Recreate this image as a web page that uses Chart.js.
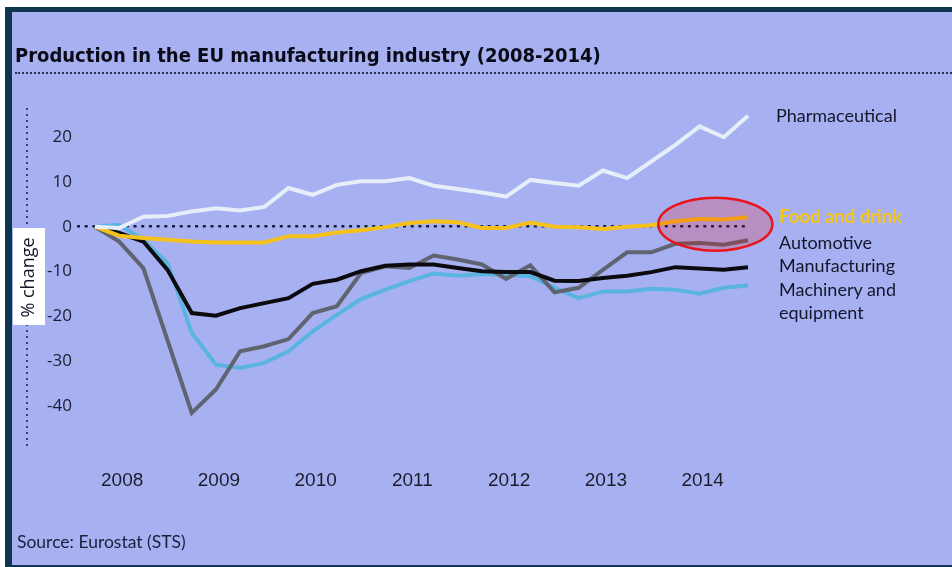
<!DOCTYPE html>
<html>
<head>
<meta charset="utf-8">
<title>Production in the EU manufacturing industry (2008-2014)</title>
<script src="https://cdn.jsdelivr.net/npm/chart.js@4.4.1/dist/chart.umd.min.js"></script>
<style>
  html, body { margin: 0; padding: 0; background: #fff; }
  body { width: 952px; height: 567px; position: relative; overflow: hidden; font-family: Lato, "Open Sans", sans-serif; }
  #frame { position: absolute; left: 5px; top: 7px; width: 940px; height: 553px; background: #a7b1f1;
           border-left: 7px solid #0d3550; border-top: 5px solid #0d3550; border-bottom: 2px solid #0d3550; }
  #title { position: absolute; left: 15px; top: 43px; font: bold 20px "DejaVu Sans Condensed", sans-serif;
           line-height: 24px; color: #0a0a16; white-space: nowrap; z-index: 2; }
  #rule { position: absolute; left: 15px; top: 72px; width: 937px; border-top: 2px dotted #2a2f55; z-index: 2; }
  #wrap { position: absolute; left: 0; top: 0; width: 952px; height: 567px; z-index: 1; }
  .lbl { position: absolute; left: 779px; font-size: 18px; line-height: 23px; color: #14162a; white-space: nowrap; z-index: 2; }
  #source { position: absolute; left: 17px; top: 531px; font-size: 17.5px; line-height: 22px; color: #1a1f3a; z-index: 2; }
</style>
</head>
<body>
<div id="frame"></div>
<div id="title">Production in the EU manufacturing industry (2008-2014)</div>
<div id="rule"></div>
<div id="wrap"><canvas id="chart" width="952" height="567"></canvas></div>
<div class="lbl" style="left:776px; top:104px;">Pharmaceutical</div>
<div class="lbl" style="top:205px; color:#f5c518; font-weight:bold; font-size:18.5px;">Food and drink</div>
<div class="lbl" style="top:231px;">Automotive</div>
<div class="lbl" style="top:254px;">Manufacturing</div>
<div class="lbl" style="top:278px;">Machinery and</div>
<div class="lbl" style="top:301px;">equipment</div>
<div id="source">Source: Eurostat (STS)</div>

<script>
// quarterly index, % change vs 2008 Q1
const quarters = [
  '2008 Q1', '2008 Q2', '2008 Q3', '2008 Q4',
  '2009 Q1', '2009 Q2', '2009 Q3', '2009 Q4',
  '2010 Q1', '2010 Q2', '2010 Q3', '2010 Q4',
  '2011 Q1', '2011 Q2', '2011 Q3', '2011 Q4',
  '2012 Q1', '2012 Q2', '2012 Q3', '2012 Q4',
  '2013 Q1', '2013 Q2', '2013 Q3', '2013 Q4',
  '2014 Q1', '2014 Q2', '2014 Q3', '2014 Q4'
];
const yearTicks = ['2008', '2009', '2010', '2011', '2012', '2013', '2014'];
const yTicks = [-40, -30, -20, -10, 0, 10, 20];

const pharmaceutical = [0, -0.3, 2.2, 2.4, 3.4, 4.1, 3.6, 4.4, 8.6, 7.1, 9.3, 10.1, 10.1, 10.8, 9.1, 8.4, 7.6, 6.7, 10.4, 9.7, 9.1, 12.5, 10.8, 14.5, 18.2, 22.3, 19.9, 24.7];
const foodDrink = [0, -2.0, -2.5, -2.9, -3.3, -3.5, -3.5, -3.5, -2.1, -2.1, -1.3, -0.8, -0.1, 0.8, 1.2, 1.0, -0.3, -0.3, 0.9, 0, -0.1, -0.5, 0, 0.3, 1.2, 1.7, 1.6, 2.1];
const automotive = [0, -3.3, -9.2, -25.3, -41.4, -36.2, -27.7, -26.6, -25.0, -19.2, -17.7, -10.3, -8.8, -9.2, -6.4, -7.3, -8.4, -11.6, -8.6, -14.6, -13.6, -9.6, -5.7, -5.7, -3.8, -3.6, -4.0, -3.0];
const manufacturing = [0, -1.4, -3.3, -9.6, -19.2, -19.8, -18.1, -17.0, -15.9, -12.7, -11.8, -9.9, -8.7, -8.4, -8.4, -9.2, -9.9, -10.1, -10.1, -12.0, -12.1, -11.4, -10.9, -10.1, -9.0, -9.3, -9.6, -9.0];
const machinery = [0, 0.4, -2.9, -8.1, -23.6, -30.7, -31.4, -30.3, -27.7, -23.3, -19.6, -16.1, -14.0, -12.1, -10.4, -10.9, -10.5, -10.7, -11.0, -13.6, -15.9, -14.4, -14.4, -13.8, -14.0, -14.9, -13.6, -13.1];

function line(label, data, color, order) {
  return { label: label, data: data, borderColor: color, backgroundColor: color,
           borderWidth: 4, pointRadius: 0, tension: 0, fill: false, order: order };
}

// dotted y axis line + white box behind the axis title
const axisDecor = {
  id: 'axisDecor',
  beforeDraw(chart) {
    const c = chart.ctx, y = chart.scales.y;
    c.save();
    c.strokeStyle = '#3a4070';
    c.lineWidth = 2;
    c.setLineDash([2, 4]);
    c.beginPath();
    c.moveTo(27, y.top);
    c.lineTo(27, y.bottom);
    c.stroke();
    c.setLineDash([]);
    c.fillStyle = '#ffffff';
    c.fillRect(13, 228, 32, 97);
    c.restore();
  }
};

// highlight ellipse round the end of Food and drink
const highlight = {
  id: 'highlight',
  afterDatasetsDraw(chart) {
    const c = chart.ctx, x = chart.scales.x, y = chart.scales.y;
    const cx = x.getPixelForValue(25.65), cy = y.getPixelForValue(0.55);
    const rx = x.getPixelForValue(2.36) - x.getPixelForValue(0);
    const ry = y.getPixelForValue(0) - y.getPixelForValue(5.9);
    c.save();
    c.beginPath();
    c.ellipse(cx, cy, rx, ry, 0, 0, Math.PI * 2);
    c.fillStyle = 'rgba(255, 0, 0, 0.19)';
    c.fill();
    c.lineWidth = 2.5;
    c.strokeStyle = '#e8141a';
    c.stroke();
    c.restore();
  }
};

const ctx = document.getElementById('chart').getContext('2d');
const chart = new Chart(ctx, {
  type: 'line',
  data: {
    labels: quarters,
    datasets: [
      line('Pharmaceutical', pharmaceutical, '#e6eefa', 1),
      line('Food and drink', foodDrink, '#f5c21b', 2),
      line('Manufacturing', manufacturing, '#0a0a0f', 3),
      line('Automotive', automotive, '#5f6470', 4),
      line('Machinery and equipment', machinery, '#5ab4e0', 5)
    ]
  },
  options: {
    responsive: false,
    animation: false,
    layout: { padding: { top: 108, right: 204, bottom: 80, left: 0 } },
    plugins: { legend: { display: false }, tooltip: { enabled: false } },
    scales: {
      x: {
        afterFit: s => { s.height = 40; },
        grid: { display: false },
        border: { display: false },
        ticks: {
          autoSkip: false, maxRotation: 0, padding: 14, labelOffset: 3,
          color: '#1c1c2c',
          font: { family: '"Liberation Sans", Arial, sans-serif', size: 19 },
          callback: (v, i) => (i % 4 === 1 ? yearTicks[Math.floor(i / 4)] : '')
        }
      },
      y: {
        min: -49, max: 26.4,
        afterFit: s => { s.width = 95; },
        afterBuildTicks: s => { s.ticks = yTicks.map(v => ({ value: v })); },
        border: { display: false, dash: [3, 4.7] },
        grid: {
          lineWidth: 2.5,
          color: c => (c.tick && c.tick.value === 0 ? '#151b3a' : 'rgba(0,0,0,0)'),
          tickColor: c => (c.tick && c.tick.value === 0 ? '#151b3a' : 'rgba(0,0,0,0)'),
          tickLength: 18,
          tickWidth: 2.5,
          tickBorderDash: [3, 4.7]
        },
        ticks: {
          padding: 5,
          color: '#1c1c2c',
          font: { family: '"Open Sans", sans-serif', size: 17 }
        },
        title: {
          display: true,
          text: '% change',
          color: '#14162a',
          font: { family: '"Open Sans", sans-serif', size: 18 },
          padding: { top: 18, bottom: 0 }
        }
      }
    }
  },
  plugins: [axisDecor, highlight]
});
</script>
</body>
</html>
